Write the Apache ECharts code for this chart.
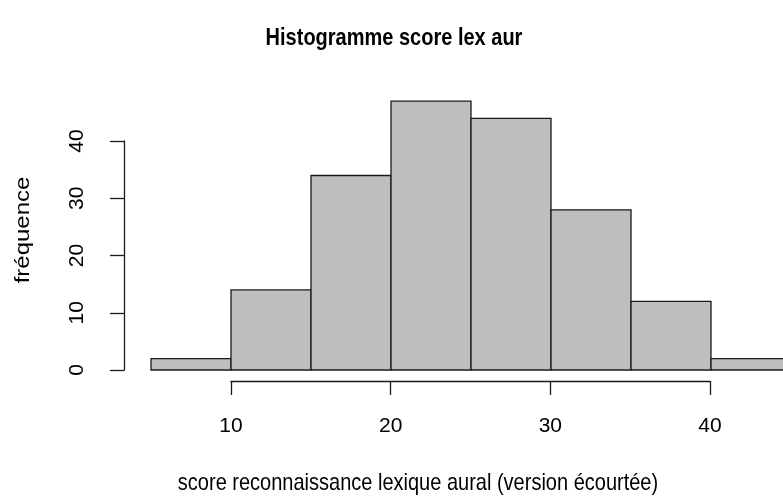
<!DOCTYPE html>
<html>
<head>
<meta charset="utf-8">
<script src="https://cdn.jsdelivr.net/npm/echarts@6/dist/echarts.min.js"></script>
<style>
  html, body { margin: 0; padding: 0; background: #fff; }
  #chart { width: 783px; height: 498px; }
</style>
</head>
<body>
<div id="chart"></div>
<script>
// histogram bins (score) and their counts
const binStart = [5, 10, 15, 20, 25, 30, 35, 40];
const binEnd = [10, 15, 20, 25, 30, 35, 40, 45];
const counts = [2, 14, 34, 47, 44, 28, 12, 2];

const xTicks = [10, 20, 30, 40];
const yTicks = [0, 10, 20, 30, 40];

const FONT = '"Liberation Sans", Arial, sans-serif';
const LINE = '#1a1a1a';

const chart = echarts.init(document.getElementById('chart'));

// the reference picture is a bit stretched vertically, so the texts get scaled
const option = {
  backgroundColor: '#fff',
  animation: false,
  graphic: [
    {
      type: 'text',
      x: 394,
      y: 38,
      scaleY: 1.2,
      style: {
        text: 'Histogramme score lex aur',
        font: 'bold 20px ' + FONT,
        fill: '#000',
        align: 'center',
        verticalAlign: 'middle'
      }
    },
    {
      type: 'text',
      x: 418,
      y: 483,
      scaleY: 1.2,
      style: {
        text: 'score reconnaissance lexique aural (version écourtée)',
        font: '20px ' + FONT,
        fill: '#000',
        align: 'center',
        verticalAlign: 'middle'
      }
    },
    {
      type: 'text',
      x: 23,
      y: 230,
      rotation: Math.PI / 2,
      scaleX: 1.2,
      style: {
        text: 'fréquence',
        font: '20px ' + FONT,
        fill: '#000',
        align: 'center',
        verticalAlign: 'middle'
      }
    }
  ],
  grid: [
    // plot area for the bars; the last bin runs past the right edge (clip off)
    { left: 151, width: 632, top: 84, bottom: 128 },
    // detached x axis (10..40)
    { left: 231, right: 73, top: 300, bottom: 117 },
    // detached y axis (0..40)
    { left: 124, width: 10, top: 141, bottom: 128 }
  ],
  xAxis: [
    { gridIndex: 0, type: 'value', min: 5, max: 44.5, show: false },
    {
      gridIndex: 1, type: 'value', min: xTicks[0], max: xTicks[xTicks.length - 1], interval: 10,
      position: 'bottom',
      axisLine: { show: true, lineStyle: { color: LINE, width: 1.3 } },
      axisTick: { show: true, length: 14, lineStyle: { color: LINE, width: 1.3 } },
      axisLabel: { margin: 35, fontFamily: FONT, fontSize: 21, color: '#000' },
      splitLine: { show: false }
    },
    { gridIndex: 2, type: 'value', show: false }
  ],
  yAxis: [
    { gridIndex: 0, type: 'value', min: 0, max: 50, show: false },
    { gridIndex: 1, type: 'value', show: false },
    {
      gridIndex: 2, type: 'value', min: yTicks[0], max: yTicks[yTicks.length - 1], interval: 10,
      position: 'left',
      axisLine: { show: true, lineStyle: { color: LINE, width: 1.3 } },
      axisTick: { show: true, length: 14, lineStyle: { color: LINE, width: 1.3 } },
      axisLabel: { margin: 36, rotate: 90, fontFamily: FONT, fontSize: 21, color: '#000' },
      splitLine: { show: false }
    }
  ],
  series: [
    {
      type: 'custom',
      xAxisIndex: 0,
      yAxisIndex: 0,
      clip: false,
      data: counts.map((c, i) => [binStart[i], binEnd[i], c]),
      encode: { x: [0, 1], y: 2 },
      renderItem: (params, api) => {
        const p0 = api.coord([api.value(0), 0]);
        const p1 = api.coord([api.value(1), api.value(2)]);
        return {
          type: 'rect',
          shape: { x: p0[0], y: p1[1], width: p1[0] - p0[0], height: p0[1] - p1[1] },
          style: { fill: '#bebebe', stroke: LINE, lineWidth: 1.3 }
        };
      }
    }
  ]
};

chart.setOption(option);
</script>
</body>
</html>
